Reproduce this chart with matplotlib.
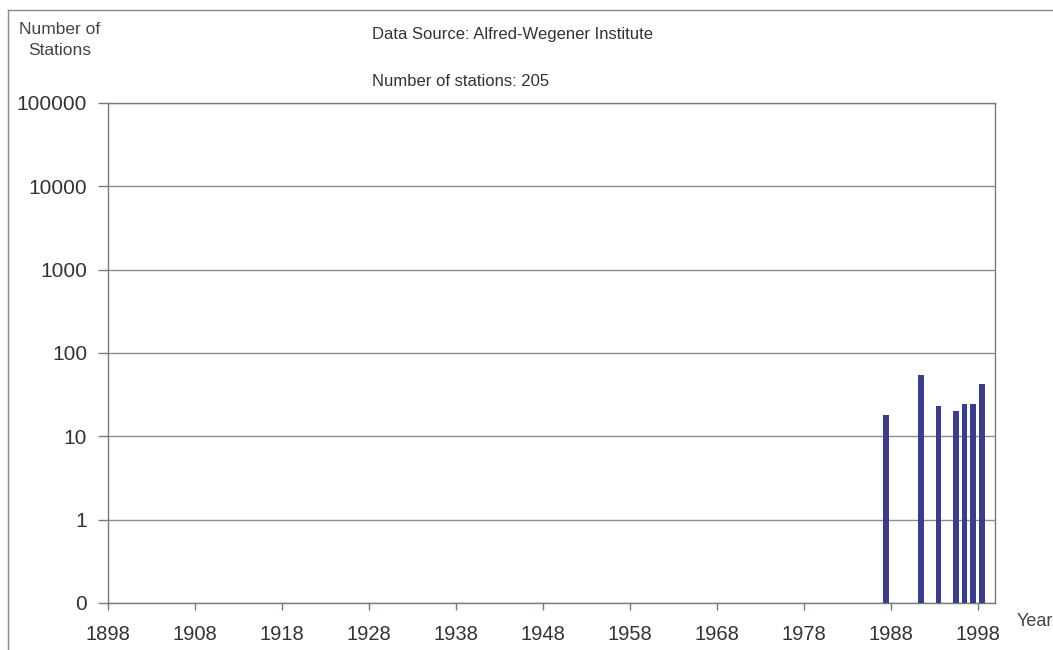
import numpy as np
import matplotlib
matplotlib.use("Agg")
import matplotlib.pyplot as plt
from matplotlib.lines import Line2D

years = [1987, 1991, 1993, 1995, 1996, 1997, 1998]
stations = [18, 54, 23, 20, 24, 24, 42]
ytick_vals = [0.1, 1, 10, 100, 1000, 10000, 100000]
ytick_labels = ["0", "1", "10", "100", "1000", "10000", "100000"]
xtick_vals = list(range(1898, 1999, 10))

plt.rcParams['font.family'] = ['Liberation Sans', 'DejaVu Sans']

fig = plt.figure(figsize=(10.53, 6.5), dpi=100)
ax = fig.add_axes([108/1053, 1 - 603/650, (995 - 108)/1053, (603 - 103)/650])

ax.set_yscale('log')
ax.set_ylim(0.1, 100000)
ax.set_xlim(1898, 2000)

pos = np.array(years) + 0.5
ax.bar(pos, stations, width=0.65, bottom=0.1, color='#3a3d8c', zorder=3)

ax.set_yticks(ytick_vals)
ax.set_yticklabels(ytick_labels)
ax.yaxis.set_minor_locator(matplotlib.ticker.NullLocator())
ax.set_xticks(xtick_vals)
ax.set_xticklabels([str(v) for v in xtick_vals])

ax.grid(axis='y', color='#8c8c8c', linewidth=1.0, zorder=0)
for s in ['left', 'right', 'bottom', 'top']:
    ax.spines[s].set_color('#7a7a7a')
    ax.spines[s].set_linewidth(1.0)

ax.tick_params(axis='y', direction='out', length=7, width=1, color='#7a7a7a',
               labelsize=15, labelcolor='#333333', pad=8)
ax.tick_params(axis='x', direction='out', length=5, width=1, color='#4a8a9a',
               labelsize=14.5, labelcolor='#333333', pad=11)

fig.text(60/1053, 1 - 40/650, "Number of\nStations", ha='center', va='center',
         fontsize=12.5, color='#444444', linespacing=1.45)
fig.text(372/1053, 1 - 35/650, "Data Source: Alfred-Wegener Institute",
         ha='left', va='center', fontsize=12, color='#333333')
fig.text(372/1053, 1 - 82/650, "Number of stations: 205",
         ha='left', va='center', fontsize=12, color='#333333')
fig.text(1017/1053, 1 - 622/650, "Year", ha='left', va='center',
         fontsize=13, color='#444444')

# outer frame
fig.add_artist(Line2D([8/1053, 1], [1 - 10/650, 1 - 10/650], transform=fig.transFigure,
                      color='#888888', linewidth=1))
fig.add_artist(Line2D([8/1053, 8/1053], [0, 1 - 10/650], transform=fig.transFigure,
                      color='#888888', linewidth=1))

fig.savefig("out.png", dpi=100)
